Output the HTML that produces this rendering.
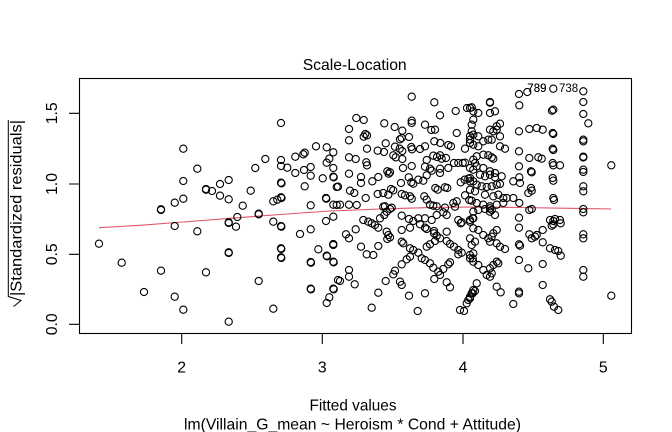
<!DOCTYPE html>
<html><head><meta charset="utf-8"><style>
html,body{margin:0;padding:0;background:#fff;}
svg{display:block;}
text{font-family:"Liberation Sans",Arial,sans-serif;fill:#000;}
</style></head><body>
<svg xmlns="http://www.w3.org/2000/svg" width="672" height="432" viewBox="0 0 672 432">
<rect width="672" height="432" fill="#fff"/>
<text x="354.7" y="70" font-size="15.8" text-anchor="middle" textLength="104" lengthAdjust="spacingAndGlyphs">Scale-Location</text>
<g fill="none" stroke="#000" stroke-width="1.1">
<rect x="79.5" y="78.5" width="552" height="255"/>
<path d="M181.7,333.5V344M322.3,333.5V344M463,333.5V344M603.3,333.5V344M79.5,324.3H69M79.5,254.3H69M79.5,184H69M79.5,113.3H69"/>
</g>
<g font-size="15.8" text-anchor="middle">
<text x="181.7" y="372.3">2</text><text x="322.3" y="372.3">3</text><text x="463" y="372.3">4</text><text x="603.3" y="372.3">5</text>
<text transform="translate(57,324.3) rotate(-90)">0.0</text>
<text transform="translate(57,254.3) rotate(-90)">0.5</text>
<text transform="translate(57,184) rotate(-90)">1.0</text>
<text transform="translate(57,113.3) rotate(-90)">1.5</text>
</g>
<text x="353" y="410.3" font-size="15.8" text-anchor="middle" textLength="87" lengthAdjust="spacingAndGlyphs">Fitted values</text>
<text x="352.5" y="429.5" font-size="15.8" text-anchor="middle" textLength="337" lengthAdjust="spacingAndGlyphs">lm(Villain_G_mean ~ Heroism * Cond + Attitude)</text>
<text transform="translate(21.5,296) rotate(-90)" font-size="15.8" textLength="176" lengthAdjust="spacingAndGlyphs">|Standardized residuals|</text>
<path d="M13.5,306.5 L15.5,305 L21,300.5 L8.3,296.5 L8.3,120" fill="none" stroke="#000" stroke-width="1"/>
<polyline points="99,227.7 140,225.3 183,222 230,218.3 280,214.5 330,211 380,209 430,207.6 470,207 520,207.5 570,208.3 611,209" fill="none" stroke="#DF536B" stroke-width="1.1"/>
<g font-size="11.5">
<text x="527.3" y="92">789</text><text x="527.3" y="92">739</text><text x="559" y="92">738</text>
</g>
<g fill="none" stroke="#000" stroke-width="1.1" id="pts">
<circle cx="99" cy="243.7" r="3.6"/><circle cx="121.7" cy="262.7" r="3.6"/><circle cx="144" cy="292" r="3.6"/><circle cx="161" cy="209.3" r="3.6"/><circle cx="161" cy="210" r="3.6"/><circle cx="161" cy="270.7" r="3.6"/><circle cx="174.7" cy="202.7" r="3.6"/><circle cx="174.7" cy="226" r="3.6"/><circle cx="174.7" cy="296.7" r="3.6"/><circle cx="183.3" cy="148.7" r="3.6"/><circle cx="183.3" cy="181" r="3.6"/><circle cx="183.3" cy="198.7" r="3.6"/><circle cx="183.3" cy="309.7" r="3.6"/><circle cx="197.3" cy="168.7" r="3.6"/><circle cx="197.3" cy="231.3" r="3.6"/><circle cx="206" cy="189" r="3.6"/><circle cx="206" cy="189.7" r="3.6"/><circle cx="206" cy="272.3" r="3.6"/><circle cx="212" cy="191" r="3.6"/><circle cx="220" cy="184" r="3.6"/><circle cx="220" cy="195.7" r="3.6"/><circle cx="228.7" cy="180" r="3.6"/><circle cx="228.7" cy="199.3" r="3.6"/><circle cx="228.7" cy="222.3" r="3.6"/><circle cx="228.7" cy="223" r="3.6"/><circle cx="228.7" cy="252.3" r="3.6"/><circle cx="228.7" cy="253" r="3.6"/><circle cx="228.7" cy="321.7" r="3.6"/><circle cx="236" cy="226.7" r="3.6"/><circle cx="237.3" cy="217" r="3.6"/><circle cx="242.7" cy="205.7" r="3.6"/><circle cx="250.7" cy="190.7" r="3.6"/><circle cx="255.3" cy="168" r="3.6"/><circle cx="258.7" cy="213.7" r="3.6"/><circle cx="258.7" cy="214.3" r="3.6"/><circle cx="258.7" cy="281" r="3.6"/><circle cx="265.3" cy="159" r="3.6"/><circle cx="273.3" cy="201.3" r="3.6"/><circle cx="273.3" cy="221.7" r="3.6"/><circle cx="273.3" cy="308.7" r="3.6"/><circle cx="277.3" cy="199.7" r="3.6"/><circle cx="281" cy="123" r="3.6"/><circle cx="281" cy="160" r="3.6"/><circle cx="281" cy="166" r="3.6"/><circle cx="281" cy="182.7" r="3.6"/><circle cx="281.5" cy="183.3" r="3.6"/><circle cx="281" cy="197.3" r="3.6"/><circle cx="281.5" cy="198" r="3.6"/><circle cx="281" cy="226" r="3.6"/><circle cx="281.3" cy="226.7" r="3.6"/><circle cx="281" cy="248.3" r="3.6"/><circle cx="281.3" cy="249" r="3.6"/><circle cx="281" cy="257.3" r="3.6"/><circle cx="281.3" cy="258" r="3.6"/><circle cx="287.3" cy="167.7" r="3.6"/><circle cx="295.3" cy="156.7" r="3.6"/><circle cx="295.3" cy="173" r="3.6"/><circle cx="300" cy="234" r="3.6"/><circle cx="303.3" cy="154.3" r="3.6"/><circle cx="304.7" cy="152.7" r="3.6"/><circle cx="304" cy="170" r="3.6"/><circle cx="304.7" cy="186.3" r="3.6"/><circle cx="310.7" cy="167" r="3.6"/><circle cx="310.7" cy="175.7" r="3.6"/><circle cx="310.7" cy="205.3" r="3.6"/><circle cx="310.7" cy="229.3" r="3.6"/><circle cx="310.7" cy="262" r="3.6"/><circle cx="311" cy="262.7" r="3.6"/><circle cx="310.7" cy="288.7" r="3.6"/><circle cx="311" cy="289.3" r="3.6"/><circle cx="316" cy="146.3" r="3.6"/><circle cx="318.3" cy="249.3" r="3.6"/><circle cx="322.7" cy="178.3" r="3.6"/><circle cx="326" cy="221" r="3.6"/><circle cx="326" cy="198" r="3.6"/><circle cx="326.3" cy="198.7" r="3.6"/><circle cx="326.7" cy="147.3" r="3.6"/><circle cx="326.7" cy="162.7" r="3.6"/><circle cx="326.7" cy="255.7" r="3.6"/><circle cx="327" cy="256.3" r="3.6"/><circle cx="326.7" cy="303" r="3.6"/><circle cx="329.3" cy="158.7" r="3.6"/><circle cx="329.3" cy="297.3" r="3.6"/><circle cx="333.3" cy="152.3" r="3.6"/><circle cx="333.3" cy="168" r="3.6"/><circle cx="333.3" cy="176.7" r="3.6"/><circle cx="333.7" cy="177.3" r="3.6"/><circle cx="333.3" cy="204.7" r="3.6"/><circle cx="333.3" cy="216.7" r="3.6"/><circle cx="333.3" cy="244" r="3.6"/><circle cx="333.3" cy="261.7" r="3.6"/><circle cx="333.7" cy="262.3" r="3.6"/><circle cx="333.3" cy="288.7" r="3.6"/><circle cx="333.7" cy="289.3" r="3.6"/><circle cx="338" cy="186.7" r="3.6"/><circle cx="338" cy="280" r="3.6"/>
<circle cx="411.7" cy="96.7" r="3.6"/><circle cx="434.3" cy="102.3" r="3.6"/><circle cx="440" cy="115.3" r="3.6"/><circle cx="455.7" cy="111" r="3.6"/><circle cx="467" cy="108" r="3.6"/><circle cx="471.7" cy="107.3" r="3.6"/><circle cx="356.3" cy="118" r="3.6"/><circle cx="363.7" cy="120" r="3.6"/><circle cx="349" cy="129" r="3.6"/><circle cx="349" cy="140.3" r="3.6"/><circle cx="384.3" cy="123.3" r="3.6"/><circle cx="394.7" cy="127" r="3.6"/><circle cx="402.3" cy="130.7" r="3.6"/><circle cx="411.7" cy="120.7" r="3.6"/><circle cx="411.7" cy="123" r="3.6"/><circle cx="425" cy="124.7" r="3.6"/><circle cx="431.3" cy="130" r="3.6"/><circle cx="435" cy="129.7" r="3.6"/><circle cx="365.3" cy="134" r="3.6"/><circle cx="367" cy="135.3" r="3.6"/><circle cx="363.7" cy="136.7" r="3.6"/><circle cx="400" cy="139.3" r="3.6"/><circle cx="401.7" cy="138" r="3.6"/><circle cx="409" cy="137" r="3.6"/><circle cx="385.7" cy="143.3" r="3.6"/><circle cx="395" cy="146.7" r="3.6"/><circle cx="399.7" cy="148.7" r="3.6"/><circle cx="367" cy="148.7" r="3.6"/><circle cx="377.7" cy="150.7" r="3.6"/><circle cx="384" cy="152" r="3.6"/><circle cx="411.3" cy="147" r="3.6"/><circle cx="412" cy="149.3" r="3.6"/><circle cx="420" cy="149" r="3.6"/><circle cx="425" cy="146.3" r="3.6"/><circle cx="434.3" cy="141.3" r="3.6"/><circle cx="440.3" cy="143" r="3.6"/><circle cx="448.3" cy="145" r="3.6"/><circle cx="451" cy="146.3" r="3.6"/><circle cx="456.7" cy="133" r="3.6"/><circle cx="465" cy="148.7" r="3.6"/><circle cx="470" cy="136" r="3.6"/><circle cx="470" cy="143" r="3.6"/><circle cx="349" cy="157.3" r="3.6"/><circle cx="355.7" cy="159" r="3.6"/><circle cx="366.3" cy="162.3" r="3.6"/><circle cx="367" cy="165.3" r="3.6"/><circle cx="393.3" cy="155.3" r="3.6"/><circle cx="395.7" cy="157.3" r="3.6"/><circle cx="402.3" cy="151" r="3.6"/><circle cx="402.3" cy="159" r="3.6"/><circle cx="403" cy="168" r="3.6"/><circle cx="411.7" cy="166" r="3.6"/><circle cx="426.7" cy="160" r="3.6"/><circle cx="433.3" cy="155.7" r="3.6"/><circle cx="437" cy="157" r="3.6"/><circle cx="440" cy="155.3" r="3.6"/><circle cx="441.7" cy="158.7" r="3.6"/><circle cx="446" cy="158" r="3.6"/><circle cx="425" cy="166.7" r="3.6"/><circle cx="430" cy="168.7" r="3.6"/><circle cx="431.7" cy="170.7" r="3.6"/><circle cx="440" cy="168.7" r="3.6"/><circle cx="440" cy="173" r="3.6"/><circle cx="448.3" cy="168" r="3.6"/><circle cx="454" cy="163" r="3.6"/><circle cx="458.3" cy="163" r="3.6"/><circle cx="462.7" cy="163" r="3.6"/><circle cx="465" cy="162.7" r="3.6"/><circle cx="387.3" cy="171.3" r="3.6"/><circle cx="388.7" cy="173.7" r="3.6"/><circle cx="390" cy="172.3" r="3.6"/><circle cx="378.3" cy="177" r="3.6"/><circle cx="372.3" cy="181.3" r="3.6"/><circle cx="361" cy="177" r="3.6"/><circle cx="361" cy="183" r="3.6"/><circle cx="349" cy="173.7" r="3.6"/><circle cx="336.7" cy="187" r="3.6"/><circle cx="408.7" cy="177.3" r="3.6"/><circle cx="411.3" cy="182.3" r="3.6"/><circle cx="413.3" cy="183.7" r="3.6"/><circle cx="401" cy="183" r="3.6"/><circle cx="418.3" cy="179.7" r="3.6"/><circle cx="423.3" cy="180.7" r="3.6"/><circle cx="426.7" cy="175.3" r="3.6"/><circle cx="435.3" cy="188" r="3.6"/><circle cx="437.7" cy="189.7" r="3.6"/><circle cx="445" cy="187.3" r="3.6"/><circle cx="447.3" cy="188" r="3.6"/><circle cx="460.7" cy="182.3" r="3.6"/><circle cx="464.7" cy="179.7" r="3.6"/><circle cx="468.3" cy="178.7" r="3.6"/><circle cx="470" cy="181.3" r="3.6"/><circle cx="391" cy="189" r="3.6"/><circle cx="393.3" cy="190.3" r="3.6"/><circle cx="383.3" cy="193" r="3.6"/><circle cx="388.3" cy="194.7" r="3.6"/><circle cx="401.7" cy="194" r="3.6"/><circle cx="405" cy="195.3" r="3.6"/><circle cx="410" cy="196.3" r="3.6"/><circle cx="411.7" cy="198.7" r="3.6"/><circle cx="350" cy="190.7" r="3.6"/><circle cx="354.3" cy="193" r="3.6"/><circle cx="365.7" cy="198" r="3.6"/><circle cx="377.7" cy="194" r="3.6"/><circle cx="424.3" cy="196.3" r="3.6"/><circle cx="426.7" cy="199.7" r="3.6"/><circle cx="340" cy="204.7" r="3.6"/><circle cx="349" cy="204.7" r="3.6"/><circle cx="453.3" cy="203" r="3.6"/><circle cx="456.7" cy="201.3" r="3.6"/><circle cx="430" cy="204.7" r="3.6"/><circle cx="433.3" cy="205.7" r="3.6"/><circle cx="436.7" cy="206.3" r="3.6"/><circle cx="385" cy="206.3" r="3.6"/><circle cx="465" cy="195.3" r="3.6"/><circle cx="469.3" cy="200" r="3.6"/><circle cx="471.7" cy="200.7" r="3.6"/>
<circle cx="363.3" cy="220" r="3.6"/><circle cx="368.3" cy="221.7" r="3.6"/><circle cx="371.7" cy="223.3" r="3.6"/><circle cx="375" cy="225" r="3.6"/><circle cx="378.3" cy="227.7" r="3.6"/><circle cx="380" cy="218.3" r="3.6"/><circle cx="384.3" cy="215" r="3.6"/><circle cx="386.7" cy="211.7" r="3.6"/><circle cx="390" cy="209" r="3.6"/><circle cx="391.7" cy="207.7" r="3.6"/><circle cx="386.7" cy="231.7" r="3.6"/><circle cx="388.3" cy="235" r="3.6"/><circle cx="390" cy="237.3" r="3.6"/><circle cx="387.3" cy="239" r="3.6"/><circle cx="401.7" cy="215.7" r="3.6"/><circle cx="409" cy="219" r="3.6"/><circle cx="413.3" cy="221" r="3.6"/><circle cx="418.3" cy="218.3" r="3.6"/><circle cx="425" cy="218.3" r="3.6"/><circle cx="420" cy="224.3" r="3.6"/><circle cx="425" cy="227.7" r="3.6"/><circle cx="426.7" cy="229" r="3.6"/><circle cx="401.7" cy="230" r="3.6"/><circle cx="410" cy="227.7" r="3.6"/><circle cx="434" cy="233.3" r="3.6"/><circle cx="436.7" cy="235.7" r="3.6"/><circle cx="446.7" cy="231.7" r="3.6"/><circle cx="431.7" cy="220" r="3.6"/><circle cx="436.7" cy="215" r="3.6"/><circle cx="443.3" cy="212.3" r="3.6"/><circle cx="446.7" cy="215" r="3.6"/><circle cx="458.3" cy="220" r="3.6"/><circle cx="460.7" cy="223.3" r="3.6"/><circle cx="461.7" cy="222.3" r="3.6"/><circle cx="470" cy="220" r="3.6"/><circle cx="472.7" cy="218.3" r="3.6"/><circle cx="346" cy="234.3" r="3.6"/><circle cx="349" cy="238.3" r="3.6"/><circle cx="355.7" cy="229.3" r="3.6"/><circle cx="333.3" cy="245" r="3.6"/><circle cx="361" cy="246.7" r="3.6"/><circle cx="366.7" cy="254.3" r="3.6"/><circle cx="373.3" cy="255" r="3.6"/><circle cx="378.3" cy="246" r="3.6"/><circle cx="401.7" cy="241.7" r="3.6"/><circle cx="403.3" cy="243.3" r="3.6"/><circle cx="410" cy="248.3" r="3.6"/><circle cx="413.3" cy="250" r="3.6"/><circle cx="418.3" cy="252.7" r="3.6"/><circle cx="421.7" cy="258.3" r="3.6"/><circle cx="425" cy="260" r="3.6"/><circle cx="426.7" cy="246.7" r="3.6"/><circle cx="430" cy="244.3" r="3.6"/><circle cx="435" cy="241" r="3.6"/><circle cx="440" cy="238.3" r="3.6"/><circle cx="434" cy="231" r="3.6"/><circle cx="446.7" cy="241" r="3.6"/><circle cx="450" cy="244" r="3.6"/><circle cx="454" cy="246.7" r="3.6"/><circle cx="458.3" cy="250" r="3.6"/><circle cx="461.7" cy="252.7" r="3.6"/><circle cx="458.3" cy="254.3" r="3.6"/><circle cx="410" cy="256.7" r="3.6"/><circle cx="406.7" cy="259.3" r="3.6"/><circle cx="401.7" cy="264.3" r="3.6"/><circle cx="395" cy="270.7" r="3.6"/><circle cx="393.3" cy="274.3" r="3.6"/><circle cx="400" cy="281.7" r="3.6"/><circle cx="401.7" cy="285" r="3.6"/><circle cx="430" cy="263.3" r="3.6"/><circle cx="433.3" cy="267.7" r="3.6"/><circle cx="438.3" cy="271.7" r="3.6"/><circle cx="440" cy="275" r="3.6"/><circle cx="443.3" cy="269" r="3.6"/><circle cx="448.3" cy="264.3" r="3.6"/><circle cx="450" cy="262.3" r="3.6"/><circle cx="434.3" cy="279" r="3.6"/><circle cx="446.7" cy="282.3" r="3.6"/><circle cx="450" cy="287.3" r="3.6"/><circle cx="470" cy="255" r="3.6"/><circle cx="473.3" cy="253.3" r="3.6"/><circle cx="472.7" cy="258.3" r="3.6"/><circle cx="349" cy="270" r="3.6"/><circle cx="349" cy="276.7" r="3.6"/><circle cx="354.7" cy="284.3" r="3.6"/><circle cx="340" cy="281" r="3.6"/><circle cx="385.7" cy="281" r="3.6"/><circle cx="378.3" cy="292.7" r="3.6"/><circle cx="409" cy="295.7" r="3.6"/><circle cx="425" cy="293.3" r="3.6"/><circle cx="371.7" cy="307.7" r="3.6"/><circle cx="417.7" cy="311" r="3.6"/><circle cx="460" cy="310" r="3.6"/><circle cx="464" cy="311" r="3.6"/><circle cx="466.7" cy="303.3" r="3.6"/><circle cx="468.3" cy="300" r="3.6"/><circle cx="470" cy="296.7" r="3.6"/><circle cx="472.7" cy="293.3" r="3.6"/><circle cx="475" cy="291" r="3.6"/><circle cx="336.7" cy="205" r="3.6"/><circle cx="356.7" cy="205" r="3.6"/><circle cx="383.3" cy="206.7" r="3.6"/><circle cx="445" cy="207.7" r="3.6"/><circle cx="455" cy="206.7" r="3.6"/>
<circle cx="470" cy="108" r="3.6"/><circle cx="473.3" cy="111.3" r="3.6"/><circle cx="478.3" cy="113" r="3.6"/><circle cx="490" cy="102" r="3.6"/><circle cx="490" cy="102.7" r="3.6"/><circle cx="490" cy="113" r="3.6"/><circle cx="495" cy="111.3" r="3.6"/><circle cx="473.3" cy="119.7" r="3.6"/><circle cx="471.7" cy="124.7" r="3.6"/><circle cx="500" cy="123.7" r="3.6"/><circle cx="496.7" cy="126.3" r="3.6"/><circle cx="490" cy="129.7" r="3.6"/><circle cx="493.3" cy="131.3" r="3.6"/><circle cx="496.7" cy="129.7" r="3.6"/><circle cx="471.7" cy="131.3" r="3.6"/><circle cx="473.3" cy="134.7" r="3.6"/><circle cx="470" cy="139.7" r="3.6"/><circle cx="478.3" cy="136.3" r="3.6"/><circle cx="483.3" cy="141.3" r="3.6"/><circle cx="488.3" cy="139.7" r="3.6"/><circle cx="491.7" cy="139.7" r="3.6"/><circle cx="500" cy="136.3" r="3.6"/><circle cx="473.3" cy="144.7" r="3.6"/><circle cx="478.3" cy="146.3" r="3.6"/><circle cx="500" cy="146.3" r="3.6"/><circle cx="505" cy="148.7" r="3.6"/><circle cx="483.3" cy="154.7" r="3.6"/><circle cx="488.3" cy="155.3" r="3.6"/><circle cx="491.7" cy="157.3" r="3.6"/><circle cx="493.3" cy="158.7" r="3.6"/><circle cx="476.7" cy="156.3" r="3.6"/><circle cx="473.3" cy="159.7" r="3.6"/><circle cx="475" cy="163" r="3.6"/><circle cx="470" cy="168" r="3.6"/><circle cx="473.3" cy="169.7" r="3.6"/><circle cx="476.7" cy="166.3" r="3.6"/><circle cx="483.3" cy="168" r="3.6"/><circle cx="490" cy="171.3" r="3.6"/><circle cx="495" cy="173" r="3.6"/><circle cx="480" cy="174.7" r="3.6"/><circle cx="485" cy="176.3" r="3.6"/><circle cx="490" cy="174.7" r="3.6"/><circle cx="470" cy="178" r="3.6"/><circle cx="473.3" cy="181.3" r="3.6"/><circle cx="476.7" cy="184.7" r="3.6"/><circle cx="481.7" cy="186.3" r="3.6"/><circle cx="486.7" cy="187" r="3.6"/><circle cx="491.7" cy="186.3" r="3.6"/><circle cx="496.7" cy="184.7" r="3.6"/><circle cx="500" cy="184" r="3.6"/><circle cx="495" cy="177.3" r="3.6"/><circle cx="501.7" cy="176.3" r="3.6"/><circle cx="470" cy="189.7" r="3.6"/><circle cx="475" cy="191.3" r="3.6"/><circle cx="485" cy="194.7" r="3.6"/><circle cx="493.3" cy="196.3" r="3.6"/><circle cx="498.3" cy="194.7" r="3.6"/><circle cx="503.3" cy="198" r="3.6"/><circle cx="506.7" cy="198" r="3.6"/><circle cx="476.7" cy="203" r="3.6"/><circle cx="483.3" cy="204.7" r="3.6"/><circle cx="490" cy="206.3" r="3.6"/><circle cx="496.7" cy="204.7" r="3.6"/><circle cx="503.3" cy="203" r="3.6"/><circle cx="519" cy="94" r="3.6"/><circle cx="527.3" cy="92" r="3.6"/><circle cx="519.3" cy="105.3" r="3.6"/><circle cx="553.3" cy="88.7" r="3.6"/><circle cx="553.3" cy="109.7" r="3.6"/><circle cx="552" cy="110.7" r="3.6"/><circle cx="583.3" cy="91.3" r="3.6"/><circle cx="583.3" cy="102" r="3.6"/><circle cx="583.3" cy="114" r="3.6"/><circle cx="588.3" cy="123.3" r="3.6"/><circle cx="519" cy="131.3" r="3.6"/><circle cx="529.3" cy="129" r="3.6"/><circle cx="536.7" cy="128" r="3.6"/><circle cx="542.7" cy="129.7" r="3.6"/><circle cx="552.7" cy="133" r="3.6"/><circle cx="553.3" cy="134" r="3.6"/><circle cx="583.3" cy="139.7" r="3.6"/><circle cx="583.3" cy="141.3" r="3.6"/><circle cx="519" cy="151.3" r="3.6"/><circle cx="529.3" cy="158" r="3.6"/><circle cx="538.3" cy="157.3" r="3.6"/><circle cx="541.7" cy="158.7" r="3.6"/><circle cx="552.7" cy="148.7" r="3.6"/><circle cx="553.3" cy="150" r="3.6"/><circle cx="583.3" cy="156.7" r="3.6"/><circle cx="583.3" cy="157.5" r="3.6"/><circle cx="552.7" cy="163" r="3.6"/><circle cx="553.3" cy="165.3" r="3.6"/><circle cx="560" cy="165.3" r="3.6"/><circle cx="519" cy="166.3" r="3.6"/><circle cx="531" cy="171.3" r="3.6"/><circle cx="531.7" cy="172.3" r="3.6"/><circle cx="519.3" cy="177.3" r="3.6"/><circle cx="513.3" cy="181.3" r="3.6"/><circle cx="520" cy="183" r="3.6"/><circle cx="583.3" cy="169.7" r="3.6"/><circle cx="583.3" cy="172" r="3.6"/><circle cx="552.7" cy="178" r="3.6"/><circle cx="553.3" cy="180.7" r="3.6"/><circle cx="531" cy="188" r="3.6"/><circle cx="531.7" cy="190.7" r="3.6"/><circle cx="528.3" cy="193" r="3.6"/><circle cx="583.3" cy="186.3" r="3.6"/><circle cx="583.3" cy="191.3" r="3.6"/><circle cx="553.3" cy="198" r="3.6"/><circle cx="554" cy="200" r="3.6"/><circle cx="513.3" cy="198" r="3.6"/><circle cx="519.3" cy="203" r="3.6"/><circle cx="611.3" cy="165.3" r="3.6"/>
<circle cx="473.3" cy="211.7" r="3.6"/><circle cx="478.3" cy="210" r="3.6"/><circle cx="485" cy="209" r="3.6"/><circle cx="490" cy="211.7" r="3.6"/><circle cx="495" cy="215" r="3.6"/><circle cx="473.3" cy="218.3" r="3.6"/><circle cx="470" cy="221.7" r="3.6"/><circle cx="490" cy="208.3" r="3.6"/><circle cx="491.7" cy="210" r="3.6"/><circle cx="473.3" cy="228.3" r="3.6"/><circle cx="478.3" cy="230" r="3.6"/><circle cx="483.3" cy="235" r="3.6"/><circle cx="488.3" cy="238.3" r="3.6"/><circle cx="491.7" cy="236.7" r="3.6"/><circle cx="493.3" cy="233.3" r="3.6"/><circle cx="496.7" cy="230" r="3.6"/><circle cx="470" cy="238.3" r="3.6"/><circle cx="475" cy="241.7" r="3.6"/><circle cx="471.7" cy="245" r="3.6"/><circle cx="496.7" cy="243.3" r="3.6"/><circle cx="500" cy="246.7" r="3.6"/><circle cx="505" cy="249" r="3.6"/><circle cx="490" cy="241.7" r="3.6"/><circle cx="470" cy="258.3" r="3.6"/><circle cx="473.3" cy="261.7" r="3.6"/><circle cx="478.3" cy="265" r="3.6"/><circle cx="483.3" cy="270" r="3.6"/><circle cx="486.7" cy="275" r="3.6"/><circle cx="490" cy="276.7" r="3.6"/><circle cx="491.7" cy="273.3" r="3.6"/><circle cx="490" cy="268.3" r="3.6"/><circle cx="493.3" cy="265" r="3.6"/><circle cx="496.7" cy="261.7" r="3.6"/><circle cx="498.3" cy="263.3" r="3.6"/><circle cx="476.7" cy="283.3" r="3.6"/><circle cx="473.3" cy="290" r="3.6"/><circle cx="471.7" cy="293.3" r="3.6"/><circle cx="470" cy="298.3" r="3.6"/><circle cx="496.7" cy="286.7" r="3.6"/><circle cx="500.7" cy="292.3" r="3.6"/><circle cx="519" cy="217.7" r="3.6"/><circle cx="519" cy="227.7" r="3.6"/><circle cx="519" cy="244.3" r="3.6"/><circle cx="520" cy="245.7" r="3.6"/><circle cx="519" cy="260" r="3.6"/><circle cx="529.3" cy="234.3" r="3.6"/><circle cx="531.7" cy="238.3" r="3.6"/><circle cx="535" cy="236.7" r="3.6"/><circle cx="536.7" cy="235" r="3.6"/><circle cx="542.7" cy="230" r="3.6"/><circle cx="542.7" cy="242.3" r="3.6"/><circle cx="550" cy="220" r="3.6"/><circle cx="553.3" cy="221" r="3.6"/><circle cx="555" cy="219" r="3.6"/><circle cx="560" cy="220" r="3.6"/><circle cx="551.7" cy="225.7" r="3.6"/><circle cx="553.3" cy="224.3" r="3.6"/><circle cx="560.7" cy="223.3" r="3.6"/><circle cx="550" cy="248.3" r="3.6"/><circle cx="555" cy="250" r="3.6"/><circle cx="558.3" cy="251" r="3.6"/><circle cx="560.7" cy="255.7" r="3.6"/><circle cx="528.3" cy="268.3" r="3.6"/><circle cx="542.7" cy="264" r="3.6"/><circle cx="542.7" cy="285" r="3.6"/><circle cx="519" cy="291.7" r="3.6"/><circle cx="519" cy="293.3" r="3.6"/><circle cx="513.3" cy="304" r="3.6"/><circle cx="550" cy="299.3" r="3.6"/><circle cx="551.7" cy="301.7" r="3.6"/><circle cx="554" cy="306.7" r="3.6"/><circle cx="558.3" cy="310" r="3.6"/><circle cx="583.3" cy="209" r="3.6"/><circle cx="583.3" cy="212.3" r="3.6"/><circle cx="583.3" cy="234.3" r="3.6"/><circle cx="583.3" cy="238.3" r="3.6"/><circle cx="583.3" cy="270" r="3.6"/><circle cx="583.3" cy="276.7" r="3.6"/><circle cx="611.3" cy="295.7" r="3.6"/><circle cx="529.3" cy="210" r="3.6"/><circle cx="531.7" cy="209" r="3.6"/>
</g>
</svg>
</body></html>
